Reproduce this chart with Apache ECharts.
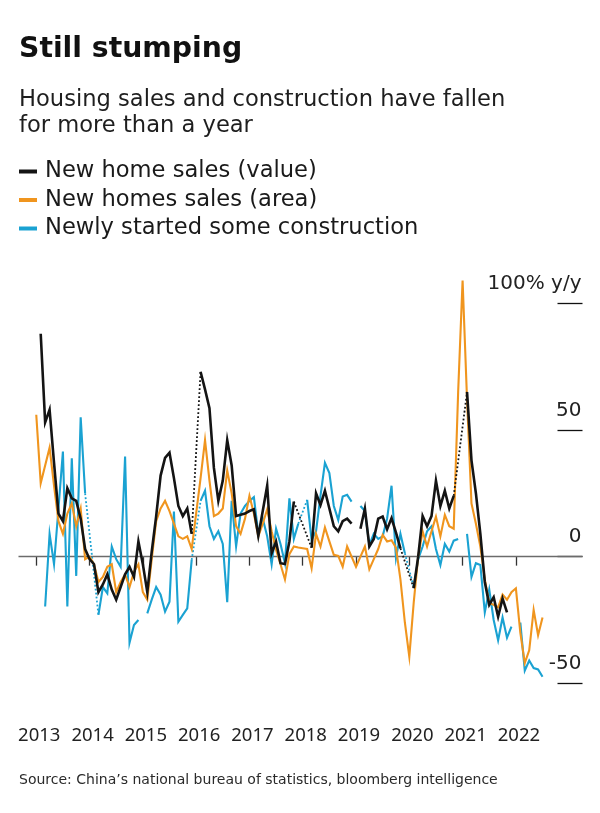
<!DOCTYPE html>
<html><head><meta charset="utf-8">
<script src="https://cdn.jsdelivr.net/npm/echarts@6/dist/echarts.min.js"></script>
<style>html,body{margin:0;padding:0;background:#fff}#c{width:600px;height:813px}</style>
</head><body><div id="c"></div>
<script>
// ---- data (monthly, Jan 2013 .. Jul 2022), y/y % ----
const seriesNames = ['New home sales (value)', 'New homes sales (area)', 'Newly started some construction'];
const firstYear = 2013;
const yearLabels = ['2013','2014','2015','2016','2017','2018','2019','2020','2021','2022'];
const yTicks = [-50, 0, 50, 100];
const yTickText = ['-50', '0', '50', '100% y/y'];

const salesValue = [
  null, 88, 53, 58, 37, 17, 14, 27, 23, 22, 15, 3,
  -1, -3, -14, -11, -7, -13, -17, -12, -7, -4, -8, 6,
  -3, -14, 2, 16, 32, 39, 41, 31, 20, 16, 19, 9,
  null, 73, 66, 58.6, 35, 22, 30, 46, 36, 16, 16.5, 17,
  18, 18.7, 8.2, 18, 28, 1.3, 5.9, -2.6, -2.9, 6, 21.7, null,
  null, null, 3.5, 25, 20.4, 26, 19, 12, 10, 14, 15, 13,
  null, 11, 19, 4, 7, 15, 15.8, 10.8, 15.2, 9.5, 3.3, null,
  null, -12.5, 0, 16, 12, 16, 30, 20, 26, 19, 24, null,
  null, 65, 38, 25, 9, -10, -19, -16, -23.7, -16.5, -22, null,
  null, null, null, null, null, null, null
];
const salesArea = [
  56, 29, 36, 43, 28, 14, 9, 17, 21, 12, 19, -1,
  0, -3, -10, -8, -4, -3, -14, -10, -7, -12, -6, -3,
  -14, -17, -1, 14, 19, 22, 18, 13, 8, 7, 8, 3,
  17, 31, 46, 30, 16, 17, 19, 34, 25, 12, 9, 15,
  24, 17, 8, 13, 18.7, 10, 2.6, -3, -9, 1, 4, 3.6,
  3.3, 3, -4.6, 9, 4, 11.5, 6, 0.7, 0.3, -4, 4, 0,
  -4, 0, 4, -5, -1, 3, 8.6, 6, 6.5, 3.5, -9, -26,
  -39.5, -18, 0, 10, 4, 10, 15.8, 8, 16.5, 12, 11, 65,
  109, 62, 21, 13, 4, -9, -18.4, -19, -20, -15, -17, -14,
  -12.5, -30, -42, -37, -21, -31, -24
];
const newStarts = [
  null, null, -19.7, 9, -3, 19, 41.5, -19.7, 38.8, -7.6, 55, 25,
  null, null, -23, -12, -14.5, 4, -1, -4, 39.5, -34, -27, -25,
  null, -22.4, -17, -12, -15, -21.7, -17.8, 17.8, -25.7, -23, -20.4, -1.3,
  null, 22, 26, 12, 7, 10, 5, -18, 22, 4, 17, 20,
  22, 23.5, 9, 15, 8, -3, 11, 5, -2.6, 23, 7, 13,
  null, 22.4, 6.6, 10, 24, 37, 33, 20, 14.5, 23.7, 24.4, 21.7,
  null, 20, 18, 4.6, 9, 7, 8, 15, 28, -0.6, 9, 1.3,
  null, -12, -1, 4, 10, 12, 3, -3.3, 5, 2, 6.3, 7,
  null, 9, -8, -2.6, -3.3, -22, -13, -25, -33, -24, -32, -27.6,
  null, -26, -45, -41, -44, -44.5, -47.4
];
// gaps that the reference bridges with a dotted line (index of last point before the gap)
const salesValueBridges = [35, 58, 82, 94];
const salesAreaBridges = [];
const newStartsBridges = [11, 35, 59, 83];

// ---- axis categories: months, with empty margin months either side ----
const monthsBefore = 4, monthsAfter = 9;
const categories = [];
for (let k = -monthsBefore; k < salesArea.length + monthsAfter; k++) {
  const y = firstYear + Math.floor(k / 12);
  const m = ((k % 12) + 12) % 12 + 1;
  categories.push(y + '-' + String(m).padStart(2, '0'));
}
const pad = arr => Array(monthsBefore).fill(null).concat(arr, Array(monthsAfter).fill(null));
const isJan = (i, v) => v.slice(5) === '01' && yearLabels.indexOf(v.slice(0, 4)) >= 0;

const FONT = 'DejaVu Sans';
const NUMFONT = 'Noto Sans';
const colors = ['#141414', '#f0951e', '#1aa2d2'];
const widths = [2.6, 2.1, 2.1];
const datasets = [salesValue, salesArea, newStarts];
const bridges = [salesValueBridges, salesAreaBridges, newStartsBridges];

const series = [];
const order = [2, 1, 0];
order.forEach(si => {
  const arr = datasets[si];
  const main = {
    name: seriesNames[si], type: 'line', data: pad(arr), showSymbol: false,
    connectNulls: false, clip: false, silent: true, z: 3 + (2 - si),
    lineStyle: { color: colors[si], width: widths[si], join: 'miter' },
    itemStyle: { color: colors[si] }
  };
  if (si === 2) {
    main.markLine = {
      silent: true, symbol: 'none', label: { show: false },
      lineStyle: { color: '#6b6b6b', width: 1.3, type: 'solid' },
      data: [{ yAxis: 0 }], z: 1
    };
  }
  series.push(main);
  bridges[si].forEach((s, bi) => {
    let e = s + 1;
    while (e < arr.length && arr[e] === null) e++;
    const d = arr.map((v, i) => (i === s || i === e) ? v : null);
    series.push({
      name: seriesNames[si] + ' gap ' + bi, type: 'line', data: pad(d), showSymbol: false,
      connectNulls: true, clip: false, silent: true, z: 3 + (2 - si),
      lineStyle: { color: colors[si], width: 1.8, type: [1.8, 2.2] },
      itemStyle: { color: colors[si] }
    });
  });
});

const chart = echarts.init(document.getElementById('c'), null, { renderer: 'canvas' });
chart.setOption({
  animation: false,
  backgroundColor: '#fff',
  textStyle: { fontFamily: FONT },
  title: [
    { text: 'Still stumping', left: 19, top: 34, padding: 0,
      textStyle: { fontFamily: FONT, fontSize: 28.3, fontWeight: 'bold', color: '#111', lineHeight: 32 } },
    { text: 'Housing sales and construction have fallen\nfor more than a year', left: 19, top: 87, padding: 0,
      textStyle: { fontFamily: FONT, fontSize: 22.6, fontWeight: 'normal', color: '#1e1e1e', lineHeight: 26 } },
    { text: 'Source: China\u2019s national bureau of statistics, bloomberg intelligence', left: 19, top: 772, padding: 0,
      textStyle: { fontFamily: FONT, fontSize: 14, fontWeight: 'normal', color: '#2a2a2a', lineHeight: 16 } }
  ],
  legend: {
    data: seriesNames, orient: 'vertical', left: 19, top: 160, itemGap: 5.5,
    icon: 'rect', itemWidth: 18, itemHeight: 4, selectedMode: false, padding: 0,
    textStyle: { fontFamily: FONT, fontSize: 22.6, lineHeight: 22, color: '#1a1a1a', padding: [0, 0, 0, 3] }
  },
  grid: { left: 18.5, right: 17.5, top: 303.3, bottom: 129.7, containLabel: false },
  xAxis: {
    type: 'category', data: categories, boundaryGap: false, offset: 13.7,
    axisLine: { show: false },
    axisTick: { show: true, interval: isJan, length: 9, lineStyle: { color: '#333', width: 1.3 } },
    axisLabel: { interval: isJan, formatter: v => v.slice(0, 4), margin: 29, fontFamily: NUMFONT,
      fontSize: 18.5, lineHeight: 18.5, color: '#222', padding: [0, 0, 0, 6] },
    splitLine: { show: false }
  },
  yAxis: {
    type: 'value', position: 'right', min: -50, max: 100, interval: 50,
    axisLine: { show: false },
    axisTick: { show: true, inside: true, length: 25, lineStyle: { color: '#111', width: 1.3 } },
    axisLabel: { inside: true, margin: 1, fontFamily: FONT, fontSize: 20, color: '#222',
      verticalAlign: 'bottom', lineHeight: 39,
      formatter: v => { const i = yTicks.indexOf(v); return i >= 0 ? yTickText[i] : ''; } },
    splitLine: { show: false }
  },
  series: series
});
</script>
</body></html>
